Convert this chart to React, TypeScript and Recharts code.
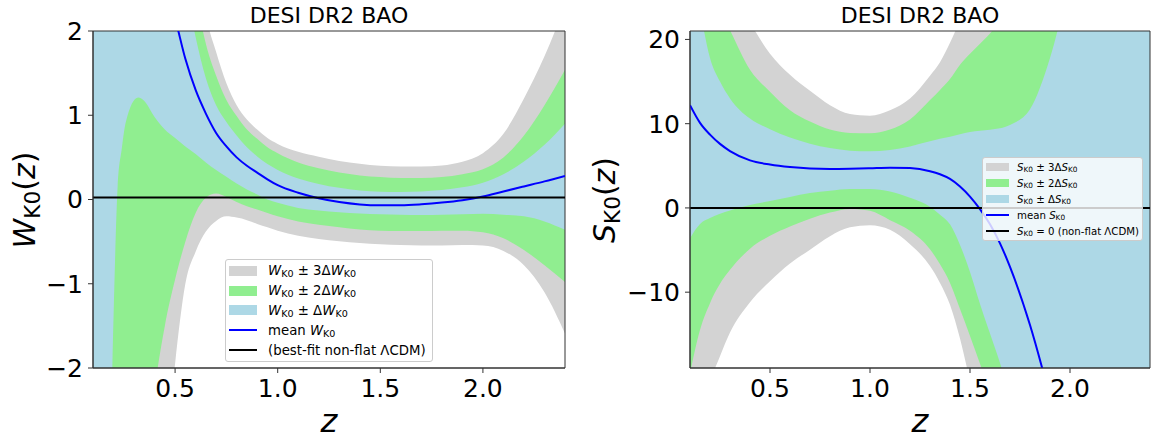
import React from 'react';
import { ComposedChart, Area, Line, XAxis, YAxis, ReferenceLine, ReferenceArea } from 'recharts';

const FONT = 'DejaVu Sans';

// left panel: W_K0(z)
const zLeft = [0.1, 0.15, 0.18, 0.2, 0.22, 0.24, 0.26, 0.32, 0.35, 0.4, 0.45, 0.5, 0.55, 0.6, 0.65, 0.7, 0.75, 0.8, 0.85, 0.9, 0.95, 1.0, 1.1, 1.2, 1.3, 1.4, 1.5, 1.6, 1.7, 1.8, 1.9, 2.0, 2.1, 2.2, 2.3, 2.4];
const wMean = [14, 11, 9.6, 8.6, 7.7, 6.9, 6.2, 4.6, 3.95, 3.1, 2.55, 2.15, 1.67, 1.3, 1.02, 0.79, 0.63, 0.5, 0.4, 0.32, 0.24, 0.17, 0.08, 0.015, -0.03, -0.058, -0.068, -0.068, -0.057, -0.037, -0.008, 0.035, 0.095, 0.155, 0.215, 0.28];
const w1Lo = [-9, -5, -3.5, -1.4, 0.15, 0.6, 0.92, 1.21, 1.17, 0.98, 0.83, 0.73, 0.63, 0.54, 0.44, 0.35, 0.27, 0.19, 0.12, 0.06, 0.0, -0.04, -0.1, -0.13, -0.15, -0.165, -0.175, -0.18, -0.183, -0.18, -0.175, -0.17, -0.18, -0.2, -0.26, -0.36];
const w1Hi = [20, 16, 14.5, 13, 12, 11, 10.2, 8, 7, 5.5, 4.3, 3.3, 2.55, 1.93, 1.44, 1.12, 0.92, 0.76, 0.62, 0.51, 0.42, 0.35, 0.25, 0.185, 0.138, 0.108, 0.093, 0.09, 0.095, 0.112, 0.145, 0.2, 0.3, 0.45, 0.65, 0.9];
const w2Lo = [-14, -10, -8.5, -7.5, -6.7, -6, -5.4, -3.9, -3.2, -2.25, -1.5, -0.95, -0.5, -0.16, 0.02, 0.07, 0.03, -0.03, -0.08, -0.12, -0.16, -0.2, -0.26, -0.3, -0.33, -0.355, -0.37, -0.375, -0.375, -0.37, -0.37, -0.39, -0.46, -0.6, -0.78, -0.98];
const w2Hi = [26, 21, 19, 17.5, 16, 15, 14, 11, 10, 8, 6.2, 4.6, 3.4, 2.45, 1.85, 1.47, 1.18, 0.99, 0.83, 0.72, 0.62, 0.55, 0.44, 0.37, 0.32, 0.286, 0.266, 0.254, 0.254, 0.266, 0.3, 0.36, 0.5, 0.76, 1.12, 1.54];
const w3Lo = [-18, -15, -13, -12, -11, -10, -9.3, -7, -6, -4.6, -3.2, -1.95, -1.0, -0.62, -0.38, -0.254, -0.2, -0.215, -0.245, -0.29, -0.33, -0.37, -0.43, -0.47, -0.495, -0.515, -0.53, -0.54, -0.545, -0.545, -0.54, -0.545, -0.61, -0.78, -1.1, -1.59];
const w3Hi = [32, 26, 23, 21, 19.5, 18, 17, 14, 12.5, 10, 8, 6, 4.4, 3.1, 2.2, 1.75, 1.38, 1.12, 0.95, 0.83, 0.73, 0.66, 0.567, 0.508, 0.456, 0.425, 0.4, 0.393, 0.393, 0.405, 0.449, 0.55, 0.78, 1.2, 1.7, 2.3];
const bestFitW = 0.025;

// right panel: S_K0(z)
const zRight = [0.1, 0.15, 0.2, 0.25, 0.3, 0.4, 0.5, 0.6, 0.7, 0.8, 0.9, 1.0, 1.1, 1.2, 1.3, 1.35, 1.4, 1.45, 1.5, 1.55, 1.6, 1.65, 1.7, 1.8, 1.9, 2.0, 2.1, 2.2, 2.3, 2.4];
const sMean = [12.2, 10.1, 8.7, 7.6, 6.75, 5.65, 5.15, 4.85, 4.68, 4.63, 4.66, 4.72, 4.78, 4.73, 4.36, 4.0, 3.45, 2.55, 1.35, -0.15, -1.95, -4.2, -7.0, -13.9, -22.5, -32, -43, -56, -70, -85];
const s1Lo = [-3.6, -1.9, -1.2, -0.7, -0.3, 0.35, 0.82, 1.3, 1.77, 2.05, 2.25, 2.25, 1.95, 1.2, 0.13, -0.8, -1.95, -4.4, -7.6, -11.4, -14.9, -18.4, -22.5, -31, -40, -49, -58, -67, -76, -85];
const s1Hi = [30, 23.5, 17.8, 15.0, 13.0, 10.6, 9.35, 8.35, 7.62, 7.1, 6.8, 6.72, 6.88, 7.3, 7.9, 8.2, 8.45, 8.75, 9.0, 9.15, 9.28, 9.45, 9.85, 11.7, 17.8, 27, 36, 45, 54, 63];
const s2Lo = [-19.7, -14.5, -11.3, -9.0, -7.35, -4.85, -3.3, -2.2, -1.27, -0.55, -0.12, -0.35, -1.45, -2.7, -4.9, -6.7, -8.9, -12.0, -15.2, -18.5, -22, -25.5, -29, -36, -44, -52, -60, -68, -76, -84];
const s2Hi = [34, 30, 26.5, 23.5, 21.1, 16.4, 13.8, 11.6, 10.25, 9.3, 8.9, 8.85, 9.3, 10.5, 12.8, 14.0, 15.3, 17.0, 18.3, 19.5, 20.7, 22.3, 24, 28, 33, 38, 44, 50, 56, 62];
const s3Lo = [-30, -25.5, -20.7, -17.6, -14.8, -11.2, -8.7, -6.6, -4.95, -3.35, -2.3, -2.05, -2.6, -4.3, -6.9, -8.9, -11.5, -15.5, -20.5, -25, -30, -35, -40, -48, -56, -64, -72, -80, -88, -96];
const s3Hi = [40, 36, 32, 28.5, 26, 22, 18.3, 15.8, 13.9, 12.2, 11.15, 10.95, 11.6, 13.0, 15.7, 17.3, 19.6, 22.2, 24.5, 27, 30, 33, 36, 42, 48, 55, 62, 70, 78, 86];
const nonFlatS = 0;

const xTicks = [0.5, 1.0, 1.5, 2.0];
const wTicks = [-2, -1, 0, 1, 2];
const sTicks = [-10, 0, 10, 20];

const leftData = zLeft.map((z, i) => ({
  z,
  mean: wMean[i],
  b1: [w1Lo[i], w1Hi[i]],
  b2: [w2Lo[i], w2Hi[i]],
  b3: [w3Lo[i], w3Hi[i]],
}));

const rightData = zRight.map((z, i) => ({
  z,
  mean: sMean[i],
  b1: [s1Lo[i], s1Hi[i]],
  b2: [s2Lo[i], s2Hi[i]],
  b3: [s3Lo[i], s3Hi[i]],
}));

const GRAY = '#d3d3d3';
const GREEN = '#90ee90';
const BLUE = '#add8e6';

const fmtX = (v: number) => v.toFixed(1);
const fmtY = (v: number) => (v < 0 ? `\u2212${Math.abs(v)}` : `${v}`);

const tickStyle = { fontSize: 25, fill: '#000', fontFamily: FONT };

const Sym = ({ s }: { s: string }) => (
  <>
    <i>{s}</i>
    <span style={{ fontSize: '0.72em', position: 'relative', top: '0.22em' }}>K0</span>
  </>
);

type LegendItem = { kind: 'patch' | 'line'; color: string; label: React.ReactNode };

const BandLegend = ({ items, left, top, width, height, fontSize, rowH, swW, swH, gap }: {
  items: LegendItem[]; left: number; top: number; width: number; height: number;
  fontSize: number; rowH: number; swW: number; swH: number; gap: number;
}) => (
  <div style={{
    position: 'absolute', left, top, width, height, boxSizing: 'border-box',
    border: '1px solid #cccccc', borderRadius: 3, background: 'rgba(255,255,255,0.8)',
    paddingLeft: 3, paddingTop: 1, fontSize, fontFamily: FONT, color: '#000',
  }}>
    {items.map((it, i) => (
      <div key={i} style={{ display: 'flex', alignItems: 'center', height: rowH, whiteSpace: 'nowrap' }}>
        <div style={{ width: swW, height: it.kind === 'patch' ? swH : 2, background: it.color, marginRight: gap, flexShrink: 0 }} />
        <span>{it.label}</span>
      </div>
    ))}
  </div>
);

const leftLegend: LegendItem[] = [
  { kind: 'patch', color: GRAY, label: <><Sym s="W" /> ± 3Δ<Sym s="W" /></> },
  { kind: 'patch', color: GREEN, label: <><Sym s="W" /> ± 2Δ<Sym s="W" /></> },
  { kind: 'patch', color: BLUE, label: <><Sym s="W" /> ± Δ<Sym s="W" /></> },
  { kind: 'line', color: '#0000ff', label: <>mean <Sym s="W" /></> },
  { kind: 'line', color: '#000', label: <>(best-fit non-flat ΛCDM)</> },
];

const rightLegend: LegendItem[] = [
  { kind: 'patch', color: GRAY, label: <><Sym s="S" /> ± 3Δ<Sym s="S" /></> },
  { kind: 'patch', color: GREEN, label: <><Sym s="S" /> ± 2Δ<Sym s="S" /></> },
  { kind: 'patch', color: BLUE, label: <><Sym s="S" /> ± Δ<Sym s="S" /></> },
  { kind: 'line', color: '#0000ff', label: <>mean <Sym s="S" /></> },
  { kind: 'line', color: '#000', label: <><Sym s="S" /> = 0 (non-flat ΛCDM)</> },
];

const Title = ({ cx }: { cx: number }) => (
  <div style={{ position: 'absolute', left: cx, top: 16, transform: 'translate(-50%, -50%)', fontSize: 22, lineHeight: '26px', whiteSpace: 'nowrap' }}>
    DESI DR2 BAO
  </div>
);

const YLabel = ({ cx, cy, s }: { cx: number; cy: number; s: string }) => (
  <div style={{ position: 'absolute', left: cx, top: cy, transform: 'translate(-50%, -50%) rotate(-90deg)', fontSize: 30, whiteSpace: 'nowrap', lineHeight: '34px' }}>
    <Sym s={s} />(<i>z</i>)
  </div>
);

const XLabel = ({ cx, cy }: { cx: number; cy: number }) => (
  <div style={{ position: 'absolute', left: cx, top: cy, transform: 'translate(-50%, -50%)', fontSize: 32, lineHeight: '36px' }}>
    <i>z</i>
  </div>
);

export default function App() {
  return (
    <div style={{ position: 'absolute', left: 0, top: 0, width: 1158, height: 441, background: '#fff', fontFamily: FONT, color: '#000' }}>
      <div style={{ position: 'absolute', left: 0, top: 0 }}>
        <ComposedChart width={580} height={441} data={leftData} margin={{ top: 31, right: 15, bottom: 33, left: 33 }}>
          <XAxis type="number" dataKey="z" domain={[0.1, 2.4]} ticks={xTicks} allowDataOverflow tickFormatter={fmtX}
            height={40} tickSize={5} tickMargin={6} tick={tickStyle} stroke="#333" />
          <YAxis type="number" domain={[-2, 2]} ticks={wTicks} allowDataOverflow tickFormatter={fmtY}
            width={60} tickSize={5} tickMargin={5} tick={tickStyle} stroke="#333" />
          <Area dataKey="b3" type="monotone" fill={GRAY} fillOpacity={1} stroke="none" isAnimationActive={false} />
          <Area dataKey="b2" type="monotone" fill={GREEN} fillOpacity={1} stroke="none" isAnimationActive={false} />
          <Area dataKey="b1" type="monotone" fill={BLUE} fillOpacity={1} stroke="none" isAnimationActive={false} />
          <Line dataKey="mean" type="monotone" stroke="#0000ff" strokeWidth={2} dot={false} activeDot={false} isAnimationActive={false} />
          <ReferenceLine y={bestFitW} stroke="#000" strokeWidth={2} />
          <ReferenceArea x1={0.1} x2={2.4} y1={-2} y2={2} fill="none" stroke="#333" strokeWidth={1} />
        </ComposedChart>
      </div>
      <div style={{ position: 'absolute', left: 580, top: 0 }}>
        <ComposedChart width={578} height={441} data={rightData} margin={{ top: 31, right: 8, bottom: 33, left: 50 }}>
          <XAxis type="number" dataKey="z" domain={[0.1, 2.4]} ticks={xTicks} allowDataOverflow tickFormatter={fmtX}
            height={40} tickSize={5} tickMargin={6} tick={tickStyle} stroke="#333" />
          <YAxis type="number" domain={[-19, 21]} ticks={sTicks} allowDataOverflow tickFormatter={fmtY}
            width={60} tickSize={5} tickMargin={5} tick={tickStyle} stroke="#333" />
          <Area dataKey="b3" type="monotone" fill={GRAY} fillOpacity={1} stroke="none" isAnimationActive={false} />
          <Area dataKey="b2" type="monotone" fill={GREEN} fillOpacity={1} stroke="none" isAnimationActive={false} />
          <Area dataKey="b1" type="monotone" fill={BLUE} fillOpacity={1} stroke="none" isAnimationActive={false} />
          <Line dataKey="mean" type="monotone" stroke="#0000ff" strokeWidth={2} dot={false} activeDot={false} isAnimationActive={false} />
          <ReferenceLine y={nonFlatS} stroke="#000" strokeWidth={2} />
          <ReferenceArea x1={0.1} x2={2.4} y1={-19} y2={21} fill="none" stroke="#333" strokeWidth={1} />
        </ComposedChart>
      </div>
      <Title cx={329} />
      <Title cx={920} />
      <YLabel cx={26} cy={199.5} s="W" />
      <YLabel cx={606} cy={200} s="S" />
      <XLabel cx={329} cy={421} />
      <XLabel cx={920} cy={421} />
      <BandLegend items={leftLegend} left={225} top={259} width={208} height={103}
        fontSize={13.3} rowH={19.8} swW={28} swH={10} gap={11} />
      <BandLegend items={rightLegend} left={982} top={157} width={161} height={84}
        fontSize={10.2} rowH={16} swW={23} swH={8} gap={8} />
    </div>
  );
}
